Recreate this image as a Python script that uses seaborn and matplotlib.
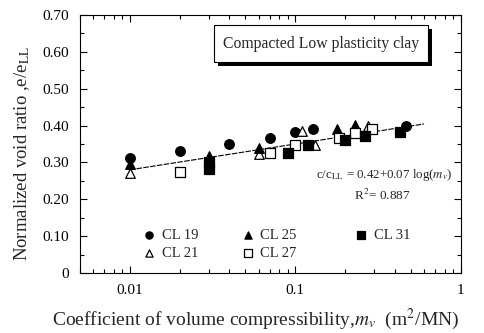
import numpy as np
import pandas as pd
import matplotlib
matplotlib.use("Agg")
import matplotlib.pyplot as plt
import seaborn as sns
from matplotlib.patches import Rectangle
from matplotlib.ticker import LogLocator, MultipleLocator, FixedLocator, FixedFormatter

# Series: coefficient of volume compressibility (m^2/MN) and normalized void ratio
cl19_mv = [0.01, 0.02, 0.04, 0.07, 0.10, 0.128, 0.47]
cl19_e = [0.313, 0.332, 0.350, 0.367, 0.382, 0.392, 0.400]

cl21_mv = [0.01, 0.06, 0.11, 0.132, 0.275]
cl21_e = [0.272, 0.323, 0.385, 0.347, 0.400]

cl25_mv = [0.01, 0.03, 0.06, 0.18, 0.23]
cl25_e = [0.297, 0.317, 0.339, 0.390, 0.402]

cl27_mv = [0.02, 0.07, 0.10, 0.185, 0.23, 0.29]
cl27_e = [0.275, 0.327, 0.348, 0.367, 0.380, 0.390]

cl31_mv = [0.03, 0.03, 0.09, 0.12, 0.20, 0.265, 0.43]
cl31_e = [0.300, 0.282, 0.326, 0.346, 0.362, 0.373, 0.382]

series_names = ["CL 19", "CL 21", "CL 25", "CL 27", "CL 31"]

# Regression: e/e_LL = a + b log10(m_v)
fit_a, fit_b = 0.42, 0.07
fit_r2 = 0.887
fit_range = (0.01, 0.6)

x_ticks = [0.01, 0.1, 1]
x_tick_labels = ["0.01", "0.1", "1"]
y_ticks = [0, 0.1, 0.2, 0.3, 0.4, 0.5, 0.6, 0.7]
y_tick_labels = ["0", "0.10", "0.20", "0.30", "0.40", "0.50", "0.60", "0.70"]

sns.set_theme(style="ticks")
plt.rcParams["font.family"] = ["Liberation Serif", "DejaVu Serif"]
plt.rcParams["mathtext.fontset"] = "stix"

fig = plt.figure(figsize=(4.84, 3.33), dpi=100)
ax = fig.add_axes([0.165, 0.18, 0.787, 0.775])

styles = {
    "CL 19": dict(marker="o", facecolor="black"),
    "CL 21": dict(marker="^", facecolor="white"),
    "CL 25": dict(marker="^", facecolor="black"),
    "CL 27": dict(marker="s", facecolor="white"),
    "CL 31": dict(marker="s", facecolor="black"),
}
data = {
    "CL 19": (cl19_mv, cl19_e),
    "CL 21": (cl21_mv, cl21_e),
    "CL 25": (cl25_mv, cl25_e),
    "CL 27": (cl27_mv, cl27_e),
    "CL 31": (cl31_mv, cl31_e),
}

frames = []
for name in series_names:
    mv, e = data[name]
    frames.append(pd.DataFrame({"mv": mv, "e": e, "soil": name}))
df = pd.concat(frames, ignore_index=True)

for name in series_names:
    sub = df[df["soil"] == name]
    st = styles[name]
    sns.scatterplot(data=sub, x="mv", y="e", ax=ax, marker=st["marker"],
                    color=st["facecolor"], edgecolor="black", linewidth=0.9,
                    s=48, label=name, zorder=3)

# Fitted trend line
fit_x = np.logspace(np.log10(fit_range[0]), np.log10(fit_range[1]), 50)
fit_df = pd.DataFrame({"mv": fit_x, "e": fit_a + fit_b * np.log10(fit_x)})
sns.lineplot(data=fit_df, x="mv", y="e", ax=ax, color="black", linewidth=0.8,
             zorder=2, legend=False)
ax.lines[-1].set_dashes((5, 1.2))

ax.set_xscale("log")
ax.set_xlim(0.005, 1)
ax.set_ylim(0, 0.7)
ax.xaxis.set_major_locator(FixedLocator(x_ticks))
ax.xaxis.set_major_formatter(FixedFormatter(x_tick_labels))
ax.xaxis.set_minor_locator(LogLocator(base=10, subs=np.arange(2, 10)))
ax.xaxis.set_minor_formatter(plt.NullFormatter())
ax.yaxis.set_major_locator(FixedLocator(y_ticks))
ax.yaxis.set_major_formatter(FixedFormatter(y_tick_labels))
ax.yaxis.set_minor_locator(MultipleLocator(0.05))

ax.tick_params(which="both", direction="in", top=True, right=True,
               labelsize=11, colors="black", width=0.8, pad=8)
ax.tick_params(which="major", length=5)
ax.tick_params(which="minor", length=3)
for sp in ax.spines.values():
    sp.set_color("black")
    sp.set_linewidth(0.8)

ax.set_xlabel(r"Coefficient of volume compressibility,$m_v$  (m$^2$/MN)", fontsize=14)
ax.set_ylabel(r"Normalized void ratio ,e/e$_{\rm LL}$", fontsize=13.5)
ax.xaxis.set_label_coords(0.462, -0.13)
ax.yaxis.set_label_coords(-0.126, 0.465)

# Title box with drop shadow
bx0, by0, bw, bh = 0.352, 0.818, 0.561, 0.143
ax.add_patch(Rectangle((bx0 + 0.0105, by0 - 0.0155), bw, bh, transform=ax.transAxes,
                       facecolor="black", edgecolor="none", zorder=4))
ax.add_patch(Rectangle((bx0, by0), bw, bh, transform=ax.transAxes,
                       facecolor="white", edgecolor="black", linewidth=0.8, zorder=5))
ax.text(bx0 + bw / 2, by0 + bh / 2, "Compacted Low plasticity clay", fontsize=11.3,
        transform=ax.transAxes, ha="center", va="center", zorder=6)

ax.text(0.798, 0.38, r"c/c$_{\rm LL}$ = %.2f+%.2f log($m_v$)" % (fit_a, fit_b),
        transform=ax.transAxes, fontsize=9.3, ha="center", va="center")
ax.text(0.795, 0.30, r"R$^2$= %.3f" % fit_r2, transform=ax.transAxes,
        fontsize=9.5, ha="center", va="center")

# Legend: first two columns, then a separate column for the last series
handles, labels = ax.get_legend_handles_labels()
leg_kw = dict(frameon=False, fontsize=10.5, handletextpad=0.25,
              markerscale=0.75, handlelength=1.2)
leg1 = ax.legend(handles[:4], labels[:4], loc="center left",
                 bbox_to_anchor=(0.125, 0.112), ncol=2, columnspacing=2.8,
                 labelspacing=0.35, **leg_kw)
ax.add_artist(leg1)
ax.legend(handles[4:], labels[4:], loc="center left",
          bbox_to_anchor=(0.681, 0.147), **leg_kw)

fig.savefig("out.png", dpi=100)
